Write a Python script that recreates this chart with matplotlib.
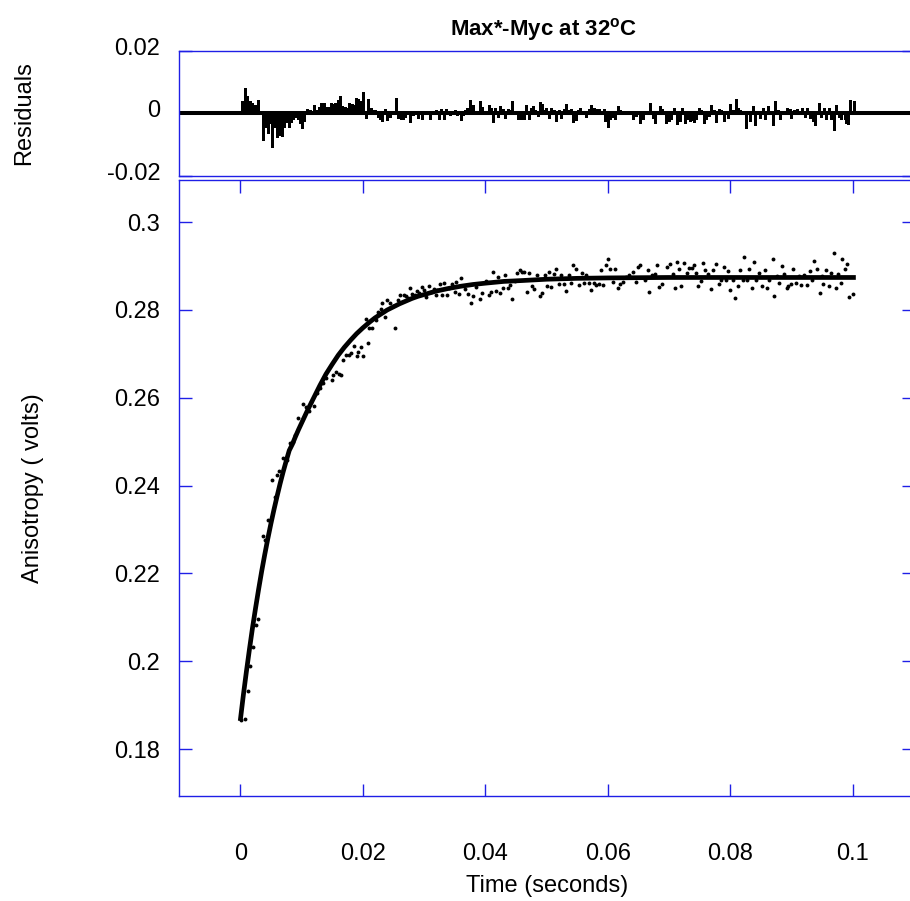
# -*- coding: utf-8 -*-
# Max*-Myc binding at 32 C : anisotropy trace with single exponential fit
# and residuals panel on top.

import numpy as np
import matplotlib.pyplot as plt
from matplotlib.transforms import ScaledTranslation

plt.rcParams['font.family'] = ['Liberation Sans', 'DejaVu Sans']
plt.rcParams['font.size'] = 17
plt.rcParams['axes.unicode_minus'] = False
plt.rcParams['mathtext.fontset'] = 'custom'
plt.rcParams['mathtext.rm'] = 'Liberation Sans'
plt.rcParams['mathtext.bf'] = 'Liberation Sans:bold'


#%% data (seconds, volts)

# measured anisotropy points
t_pts = [0.0002, 0.0007, 0.0012, 0.00165, 0.0020, 0.0026, 0.0029, 0.0037, 0.0041, 0.0046,
         0.0052, 0.0056, 0.0060, 0.0064, 0.0069, 0.0076, 0.0081, 0.0086, 0.0090, 0.0095,
         0.0102, 0.0107, 0.0112, 0.0116, 0.0120, 0.0125, 0.0130, 0.0135, 0.0140,
         0.0149, 0.0152, 0.0157, 0.0161, 0.0165, 0.0168, 0.0172, 0.0177, 0.0181, 0.0185,
         0.0190, 0.0193, 0.0197, 0.0200, 0.0205, 0.0209, 0.0211, 0.0215, 0.0221, 0.0225,
         0.0229, 0.0231, 0.0236, 0.0240, 0.0244, 0.0249, 0.0253, 0.0257, 0.0261, 0.0267,
         0.0270, 0.0274, 0.0277, 0.0281, 0.0285, 0.0288, 0.0292, 0.0296, 0.0300, 0.0304,
         0.0308, 0.0312, 0.0316, 0.0319, 0.0322, 0.0326, 0.0330, 0.0333, 0.0337, 0.0341,
         0.0346, 0.0350, 0.0353, 0.0357, 0.0361, 0.0367, 0.0372, 0.0376, 0.0380, 0.0385,
         0.0392, 0.0395, 0.0402, 0.0406, 0.0410, 0.0413, 0.0417, 0.0421, 0.0424, 0.0429,
         0.0433, 0.0437, 0.0440, 0.0444, 0.0448, 0.0452, 0.0456, 0.0460, 0.0464, 0.0468,
         0.0471, 0.0477, 0.0480, 0.0485, 0.0489, 0.0493, 0.0497, 0.0501, 0.0504, 0.0508,
         0.0512, 0.0516, 0.0520, 0.0524, 0.0528, 0.0532, 0.0536, 0.0540, 0.0544, 0.0548,
         0.0553, 0.0558, 0.0561, 0.0565, 0.0569, 0.0573, 0.0577, 0.0581, 0.0585, 0.0589,
         0.0592, 0.0597, 0.0600, 0.0604, 0.0608, 0.0612, 0.0616, 0.0620, 0.0625, 0.0630,
         0.0634, 0.0641, 0.0646, 0.0649, 0.0653, 0.0660, 0.0665, 0.0668,
         0.0672, 0.0677, 0.0680, 0.0683, 0.0688, 0.0696, 0.0702, 0.0706, 0.0710, 0.0713,
         0.0717, 0.0720, 0.0725, 0.0729, 0.0733, 0.0737, 0.0741, 0.0744, 0.0748, 0.0752,
         0.0756, 0.0759, 0.0763, 0.0769, 0.0772, 0.0777, 0.0782, 0.0785, 0.0789, 0.0793,
         0.0797, 0.0800, 0.0804, 0.0808, 0.0812, 0.0816, 0.0820, 0.0823, 0.0827, 0.0831,
         0.0835, 0.0839, 0.0842, 0.0847, 0.0852, 0.0856, 0.0860, 0.0864, 0.0869, 0.0872,
         0.0877, 0.0879, 0.0884, 0.0888, 0.0892, 0.0895, 0.0899, 0.0903, 0.0908, 0.0912,
         0.0916, 0.0920, 0.0926, 0.0930, 0.0933, 0.0937, 0.0941, 0.0946, 0.0949, 0.0952,
         0.0957, 0.0961, 0.0965, 0.0969, 0.0972, 0.0976, 0.0981, 0.0983, 0.0988, 0.0991,
         0.0994, 0.1001]
aniso = [0.1866, 0.1868, 0.1932, 0.1989, 0.2033, 0.2082, 0.2097, 0.2285, 0.2276, 0.2321,
         0.2412, 0.2374, 0.2425, 0.2433, 0.2463, 0.2459, 0.2496, 0.2500, 0.2515, 0.2553,
         0.2585, 0.2579, 0.2570, 0.2590, 0.2581, 0.2612, 0.2622, 0.2633, 0.2646,
         0.2640, 0.2651, 0.2659, 0.2655, 0.2651, 0.2686, 0.2697, 0.2697, 0.2702, 0.2719,
         0.2695, 0.2705, 0.2715, 0.2695, 0.2779, 0.2725, 0.2760, 0.2760, 0.2777, 0.2796,
         0.2803, 0.2816, 0.2784, 0.2822, 0.2815, 0.2810, 0.2760, 0.2822, 0.2834, 0.2834,
         0.2831, 0.2828, 0.2849, 0.2836, 0.2833, 0.2843, 0.2838, 0.2853, 0.2845, 0.2830,
         0.2855, 0.2840, 0.2848, 0.2834, 0.2846, 0.2860, 0.2834, 0.2862, 0.2834, 0.2850,
         0.2860, 0.2841, 0.2864, 0.2836, 0.2872, 0.2847, 0.2836, 0.2815, 0.2831, 0.2853,
         0.2824, 0.2839, 0.2867, 0.2834, 0.2841, 0.2887, 0.2843, 0.2874, 0.2839, 0.2850,
         0.2879, 0.2849, 0.2856, 0.2826, 0.2867, 0.2885, 0.2892, 0.2886, 0.2887, 0.2841,
         0.2885, 0.2854, 0.2847, 0.2879, 0.2831, 0.2839, 0.2879, 0.2854, 0.2887, 0.2853,
         0.2881, 0.2893, 0.2860, 0.2879, 0.2860, 0.2843, 0.2879, 0.2862, 0.2902, 0.2894,
         0.2856, 0.2885, 0.2862, 0.2879, 0.2862, 0.2845, 0.2862, 0.2856, 0.2860, 0.2892,
         0.2856, 0.2902, 0.2915, 0.2894, 0.2864, 0.2894, 0.2849, 0.2860, 0.2864, 0.2874,
         0.2879, 0.2887, 0.2864, 0.2898, 0.2902, 0.2869, 0.2892, 0.2841,
         0.2879, 0.2883, 0.2902, 0.2853, 0.2860, 0.2898, 0.2904, 0.2883, 0.2851, 0.2910,
         0.2894, 0.2854, 0.2906, 0.2885, 0.2896, 0.2896, 0.2902, 0.2885, 0.2855, 0.2867,
         0.2908, 0.2891, 0.2882, 0.2847, 0.2891, 0.2904, 0.2860, 0.2869, 0.2898, 0.2868,
         0.2889, 0.2845, 0.2869, 0.2828, 0.2854, 0.2891, 0.2868, 0.2920, 0.2868, 0.2894,
         0.2849, 0.2910, 0.2869, 0.2885, 0.2854, 0.2892, 0.2849, 0.2869, 0.2915, 0.2832,
         0.2878, 0.2862, 0.2900, 0.2883, 0.2850, 0.2854, 0.2860, 0.2894, 0.2862, 0.2877,
         0.2856, 0.2879, 0.2856, 0.2889, 0.2869, 0.2912, 0.2894, 0.2838, 0.2877, 0.2860,
         0.2891, 0.2854, 0.2885, 0.2929, 0.2849, 0.2883, 0.2862, 0.2915, 0.2894, 0.2904,
         0.2830, 0.2836]

# fitted curve, read at a set of times
t_fit = [0.0, 0.0005, 0.001, 0.0015, 0.002, 0.0025, 0.003, 0.0035, 0.004, 0.0045,
         0.005, 0.0055, 0.006, 0.0065, 0.007, 0.0075, 0.008, 0.0085, 0.009, 0.0095,
         0.010, 0.011, 0.012, 0.013, 0.014, 0.015, 0.016, 0.017, 0.018, 0.019,
         0.020, 0.021, 0.022, 0.023, 0.024, 0.025, 0.026, 0.027, 0.028, 0.029,
         0.030, 0.032, 0.034, 0.036, 0.038, 0.040, 0.043, 0.046, 0.050, 0.055,
         0.060, 0.070, 0.080, 0.090, 0.1005]
v_fit = [0.1864, 0.1922, 0.1976, 0.2027, 0.2076, 0.2121, 0.2164, 0.2205, 0.2243, 0.2279,
         0.2313, 0.2345, 0.2375, 0.2404, 0.2431, 0.2456, 0.2480, 0.2494, 0.2511, 0.2527,
         0.2542, 0.2572, 0.2600, 0.2628, 0.2654, 0.2676, 0.2697, 0.2715, 0.2731, 0.2746,
         0.2759, 0.2771, 0.2782, 0.2791, 0.2800, 0.2807, 0.2814, 0.2820, 0.2826, 0.2831,
         0.2835, 0.2843, 0.2849, 0.2854, 0.2858, 0.2861, 0.2865, 0.2867, 0.2870, 0.2872,
         0.2873, 0.2874, 0.2874, 0.2874, 0.2874]

# residuals (top panel)
t_res = [0.00034, 0.00077, 0.00115, 0.00153, 0.00192, 0.0023, 0.00257, 0.00295, 0.00371, 0.00409,
         0.00447, 0.0048, 0.00524, 0.00562, 0.006, 0.00638, 0.00676, 0.00714, 0.00752, 0.0079,
         0.00834, 0.00866, 0.00904, 0.00943, 0.00975, 0.01013, 0.01046, 0.01095, 0.01133, 0.01209,
         0.01247, 0.01285, 0.01324, 0.01362, 0.01394, 0.01432, 0.01481, 0.0152, 0.01552, 0.0159,
         0.01628, 0.01666, 0.01704, 0.01743, 0.01781, 0.01819, 0.01857, 0.01895, 0.01928, 0.01966,
         0.02009, 0.02047, 0.02091, 0.02129, 0.02167, 0.02205, 0.02243, 0.02281, 0.0232, 0.02358,
         0.02396, 0.02439, 0.02537, 0.02581, 0.02619, 0.02657, 0.02695, 0.02766, 0.0282, 0.02902,
         0.02967, 0.03038, 0.03092, 0.0319, 0.03245, 0.03283, 0.03321, 0.03364, 0.0343, 0.035,
         0.03538, 0.03571, 0.03598, 0.03636, 0.03675, 0.03707, 0.03756, 0.038, 0.03838, 0.0392,
         0.03952, 0.0399, 0.04056, 0.04099, 0.04132, 0.04164, 0.04208,
         0.04246, 0.04289, 0.04317, 0.04371, 0.04409, 0.04442, 0.04534, 0.04562, 0.046, 0.04632,
         0.0467, 0.04714, 0.04752, 0.04779, 0.04817, 0.04861, 0.04888, 0.04921, 0.04959, 0.04997,
         0.0504, 0.05079, 0.05117, 0.0516, 0.05198, 0.05242, 0.0528, 0.05324, 0.05356, 0.05394,
         0.05432, 0.05476, 0.05514, 0.05541, 0.05596, 0.0565, 0.05694, 0.05732, 0.0577, 0.05813,
         0.05852, 0.05884, 0.05933, 0.0596, 0.06004, 0.06042, 0.06085, 0.06113, 0.06167, 0.06205,
         0.06249, 0.06412, 0.06455, 0.06521, 0.06575, 0.06684, 0.06738, 0.06777, 0.06847, 0.06885,
         0.06956, 0.06994, 0.07038, 0.07076, 0.0713, 0.07173, 0.07212, 0.07255, 0.07299, 0.07337,
         0.07375, 0.07408, 0.07435, 0.07484, 0.07522, 0.07566, 0.07609, 0.07653, 0.07691, 0.07729,
         0.07773, 0.07811, 0.07843, 0.07892, 0.07936, 0.07969, 0.08001, 0.08045, 0.08088, 0.08126,
         0.08164, 0.08208, 0.08251, 0.0829, 0.08328, 0.08371, 0.08409, 0.08453, 0.0848, 0.08534,
         0.08572, 0.08616, 0.08654, 0.08698, 0.08736, 0.08779, 0.08817, 0.08861, 0.08932, 0.08969,
         0.08997, 0.09035, 0.0909, 0.09133, 0.09177, 0.09215, 0.09253, 0.09296, 0.09351, 0.09378,
         0.09449, 0.09487, 0.0953, 0.09569, 0.09607, 0.0965, 0.09688, 0.09732, 0.09775, 0.09813,
         0.09867, 0.09895, 0.09922, 0.0996, 0.1002]
resid = [0.0040, 0.0081, 0.0056, 0.0040, 0.0032, 0.0026, 0.0026, 0.0043, -0.0086, -0.0045,
         -0.0065, -0.0032, -0.0110, -0.0045, -0.0075, -0.0070, -0.0072, -0.0043, -0.0027, -0.0045,
         -0.0027, -0.0019, -0.0013, -0.0017, -0.0030, -0.0048, -0.0025, 0.0014, 0.0009, 0.0025,
         0.0011, 0.0021, 0.0034, 0.0034, 0.0019, 0.0021, 0.0032, 0.0029, 0.0032, 0.0041,
         0.0054, 0.0024, 0.0021, 0.0016, 0.0032, 0.0030, 0.0025, 0.0048, 0.0045, 0.0040,
         0.0067, -0.0016, 0.0045, 0.0016, 0.0011, 0.0009, -0.0011, -0.0018, -0.0025, 0.0013,
         -0.0021, -0.0013, 0.0048, -0.0014, -0.0019, -0.0018, -0.0013, -0.0029, -0.0005, -0.0016,
         -0.0018, 0.0002, -0.0017, 0.0009, -0.0019, 0.0013, -0.0017, 0.0013, -0.0005, 0.0011,
         -0.0006, 0.0002, -0.0021, -0.0005, 0.0009, 0.0016, 0.0043, 0.0026, 0.0005, 0.0038,
         0.0021, 0.0005, 0.0027, 0.0016, -0.0027, 0.0016, -0.0011,
         0.0024, 0.0013, -0.0014, 0.0015, 0.0011, 0.0040, -0.0019, -0.0019, -0.0017, -0.0019,
         0.0026, -0.0017, 0.0018, 0.0024, 0.0011, -0.0009, 0.0037, 0.0029, 0.0011, 0.0018,
         -0.0014, 0.0018, 0.0011, -0.0025, 0.0011, -0.0014, 0.0015, 0.0029, 0.0011, 0.0013,
         -0.0028, -0.0022, 0.0011, 0.0018, 0.0008, -0.0011, 0.0015, 0.0026, 0.0018, 0.0013,
         0.0015, 0.0008, 0.0015, -0.0025, -0.0043, -0.0019, -0.0011, -0.0017, 0.0024, 0.0011,
         0.0008, -0.0017, -0.0009, -0.0030, -0.0019, 0.0032, -0.0014, -0.0030, 0.0022, 0.0015,
         -0.0030, -0.0025, -0.0019, 0.0018, -0.0035, -0.0025, 0.0018, -0.0030, -0.0017, -0.0025,
         -0.0022, -0.0028, -0.0017, 0.0018, 0.0011, -0.0032, -0.0017, -0.0009, 0.0026, 0.0011,
         -0.0028, 0.0013, 0.0011, -0.0025, 0.0008, -0.0014, 0.0029, 0.0011, 0.0045, 0.0018,
         0.0011, 0.0008, -0.0046, 0.0004, -0.0025, 0.0024, -0.0039, 0.0008, -0.0014, 0.0018,
         -0.0019, 0.0024, 0.0008, -0.0039, 0.0040, 0.0011, -0.0019, 0.0004, 0.0018, 0.0013,
         -0.0014, 0.0011, 0.0013, 0.0004, 0.0018, -0.0011, 0.0018, -0.0014, -0.0025, -0.0039,
         0.0034, -0.0011, 0.0018, -0.0017, 0.0018, -0.0019, -0.0054, 0.0026, -0.0011, -0.0017,
         -0.0019, -0.0030, -0.0035, 0.0043, 0.0040]

x_ticks = [0, 0.02, 0.04, 0.06, 0.08, 0.1]
x_labels = ['0', '0.02', '0.04', '0.06', '0.08', '0.1']
y_ticks = [0.18, 0.2, 0.22, 0.24, 0.26, 0.28, 0.3]
y_labels = ['0.18', '0.2', '0.22', '0.24', '0.26', '0.28', '0.3']
r_ticks = [-0.02, 0, 0.02]
r_labels = ['-0.02', '0', '0.02']


#%% plot

W, H = 910, 901
fig = plt.figure(figsize=(W / 100, H / 100), dpi=100)

L, R = 179, 914   # axes edges in pixels (right spine sits just off the picture)
ax_r = fig.add_axes([L / W, 1 - 175.5 / H, (R - L) / W, 124.5 / H])
ax = fig.add_axes([L / W, 1 - 796 / H, (R - L) / W, 616 / H])

frame = '#1f1fe6'
for a in (ax, ax_r):
    for s in a.spines.values():
        s.set_color(frame)
        s.set_linewidth(1.0)
    a.set_xlim(-0.01, 0.11)

# residuals
ax_r.vlines(t_res, 0, resid, colors='k', lw=0.8, antialiased=False)
ax_r.axhline(0, color='k', lw=2.9)
ax_r.set_ylim(-0.02, 0.02)
ax_r.set_yticks(r_ticks)
ax_r.set_yticklabels(r_labels)
ax_r.tick_params(axis='y', direction='in', length=9, width=1, color=frame,
                 left=True, right=True, pad=13.5)
ax_r.tick_params(axis='x', bottom=False, top=False, labelbottom=False)
shift = ScaledTranslation(0, 4.5 / 100, fig.dpi_scale_trans)
for lab in ax_r.get_yticklabels():
    lab.set_transform(lab.get_transform() + shift)

# main trace
ax.plot(t_pts, aniso, 'o', color='k', ms=2.8, mew=0)
ax.plot(t_fit, v_fit, '-', color='k', lw=3.4, solid_capstyle='butt')
ax.set_ylim(0.1693, 0.3096)
ax.set_xticks(x_ticks)
ax.set_xticklabels(x_labels)
ax.set_yticks(y_ticks)
ax.set_yticklabels(y_labels)
ax.tick_params(axis='both', direction='in', length=9, width=1, color=frame,
               top=True, right=True)
ax.tick_params(axis='x', pad=34)
ax.tick_params(axis='y', pad=13.5)

fig.text(544 / W, 1 - 30 / H, r'Max*-Myc at 32$^{\mathbf{o}}$C', fontsize=16,
         fontweight='bold', ha='center', va='center')
fig.text(24 / W, 1 - 113 / H, 'Residuals', rotation=90, ha='center', va='center')
fig.text(33 / W, 1 - 488 / H, 'Anisotropy ( volts)', rotation=90, ha='center', va='center')
fig.text(547 / W, 1 - 886 / H, 'Time (seconds)', ha='center', va='center')

fig.savefig('out.png', dpi=100)
